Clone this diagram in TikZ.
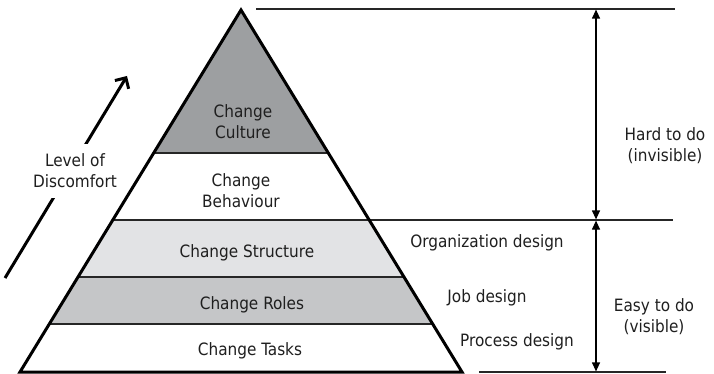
\documentclass[tikz,border=0pt]{standalone}
\usepackage{fontspec}
\setmainfont{DejaVu Sans Condensed}
\usetikzlibrary{arrows.meta}
\definecolor{culturegray}{RGB}{157,159,161}
\definecolor{rolesgray}{RGB}{197,198,200}
\definecolor{structgray}{RGB}{226,227,229}
\tikzset{
  pyrtext/.style={font=\fontsize{17}{21}\selectfont, text=black!88, align=center},
  bandline/.style={draw=black!85, line width=1.2pt},
  sizearrow/.style={{Triangle[length=9pt,width=8pt]}-{Triangle[length=9pt,width=8pt]}, line width=1.2pt},
  discarrow/.style={-{Straight Barb[length=8pt,width=16pt]}, line width=3pt},
}
\begin{document}
\begin{tikzpicture}[x=1pt,y=-1pt]
    \useasboundingbox (0,0) rectangle (714,374);

    % Define the corners
    \coordinate (top) at (241,10);
    \coordinate (left) at (20,372);
    \coordinate (right) at (462,372);

    % Fill the bands
    \fill[culturegray] (top) -- (153.7,153) -- (328.3,153) -- cycle;
    \fill[structgray] (112.8,220) -- (369.2,220) -- (404,277) -- (78,277) -- cycle;
    \fill[rolesgray] (78,277) -- (404,277) -- (432.7,324) -- (49.3,324) -- cycle;

    % Draw band lines
    \draw[bandline] (153.7,153) -- (328.3,153);
    \draw[bandline] (112.8,220) -- (673,220);
    \draw[bandline] (78,277) -- (404,277);
    \draw[bandline] (49.3,324) -- (432.7,324);
    \draw[bandline] (256,9) -- (675,9);
    \draw[bandline] (479,372) -- (666,372);

    % Draw the pyramid
    \draw[line width=3pt] (top) -- (left) -- (right) -- cycle;

    % Define the labels
    \node[pyrtext] (culture) at (243,122) {Change\\Culture};
    \node[pyrtext] (behaviour) at (241,191) {Change\\Behaviour};
    \node[pyrtext] (structure) at (247,253) {Change Structure};
    \node[pyrtext] (roles) at (252,305) {Change Roles};
    \node[pyrtext] (tasks) at (250,351) {Change Tasks};

    \node[pyrtext] (orgdesign) at (487,243) {Organization design};
    \node[pyrtext] (jobdesign) at (487,298) {Job design};
    \node[pyrtext] (procdesign) at (517,342) {Process design};

    \node[pyrtext] (hard) at (665,146) {Hard to do\\(invisible)};
    \node[pyrtext] (easy) at (654,317) {Easy to do\\(visible)};

    % Draw arrows
    \coordinate (hardtop) at (596,9.6);
    \coordinate (hardbot) at (596,219.4);
    \coordinate (easytop) at (596,220.6);
    \coordinate (easybot) at (596,371.4);
    \draw[sizearrow] (hardbot) -- (hardtop);
    \draw[sizearrow] (easybot) -- (easytop);

    \coordinate (lvlstart) at (5,278);
    \coordinate (lvlend) at (127,76);
    \draw[discarrow] (lvlstart) -- (lvlend);
    \node[pyrtext, fill=white, inner xsep=2pt, inner ysep=10pt] (level) at (75,171) {Level of\\Discomfort};
\end{tikzpicture}
\end{document}
